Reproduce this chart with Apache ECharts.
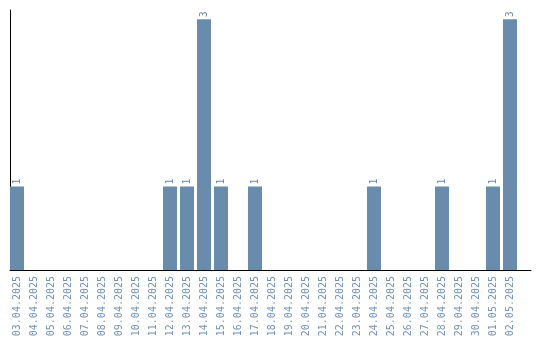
<!DOCTYPE html>
<html><head><meta charset="utf-8">
<script src="https://cdn.jsdelivr.net/npm/echarts@6/dist/echarts.min.js"></script>
<style>html,body{margin:0;padding:0;background:#fff}#c{width:540px;height:340px}</style>
</head><body><div id="c"></div>
<script>
const categories = ["03.04.2025","04.04.2025","05.04.2025","06.04.2025","07.04.2025","08.04.2025","09.04.2025","10.04.2025","11.04.2025","12.04.2025","13.04.2025","14.04.2025","15.04.2025","16.04.2025","17.04.2025","18.04.2025","19.04.2025","20.04.2025","21.04.2025","22.04.2025","23.04.2025","24.04.2025","25.04.2025","26.04.2025","27.04.2025","28.04.2025","29.04.2025","30.04.2025","01.05.2025","02.05.2025"];
const counts = [1,0,0,0,0,0,0,0,0,1,1,3,1,0,1,0,0,0,0,0,0,1,0,0,0,1,0,0,1,3];

const chart = echarts.init(document.getElementById('c'), null, {renderer:'canvas'});
chart.setOption({
  animation:false,
  grid:[
    {left:8.5, width:510, top:10, bottom:70, containLabel:false},
    {left:10, right:9, top:10, bottom:70, containLabel:false}
  ],
  xAxis:[
    {type:'category', data:categories, gridIndex:0, boundaryGap:true,
     axisLine:{show:false}, axisTick:{show:false},
     axisLabel:{rotate:90, interval:0, color:'#7393b4', fontFamily:'DejaVu Sans Mono', fontSize:10, margin:6}},
    {type:'value', gridIndex:1, min:0, max:1,
     axisLine:{show:true, lineStyle:{color:'#000', width:1}}, axisTick:{show:false}, axisLabel:{show:false}, splitLine:{show:false}}
  ],
  yAxis:[
    {type:'value', gridIndex:0, min:0, max:3.11, offset:-1.5,
     axisLine:{show:true, lineStyle:{color:'#000', width:1}}, axisTick:{show:false}, axisLabel:{show:false}, splitLine:{show:false}},
    {type:'value', gridIndex:1, show:false}
  ],
  series:[{
    type:'bar', data:counts.map(v => v === 0 ? null : v), barWidth:14, xAxisIndex:0, yAxisIndex:0,
    itemStyle:{color:'#6a8cac'},
    label:{show:true, position:'top', rotate:90, align:'left', verticalAlign:'middle', distance:2,
      color:'#6f8aa6', fontFamily:'DejaVu Sans Mono', fontSize:10}
  }]
});
</script></body></html>
